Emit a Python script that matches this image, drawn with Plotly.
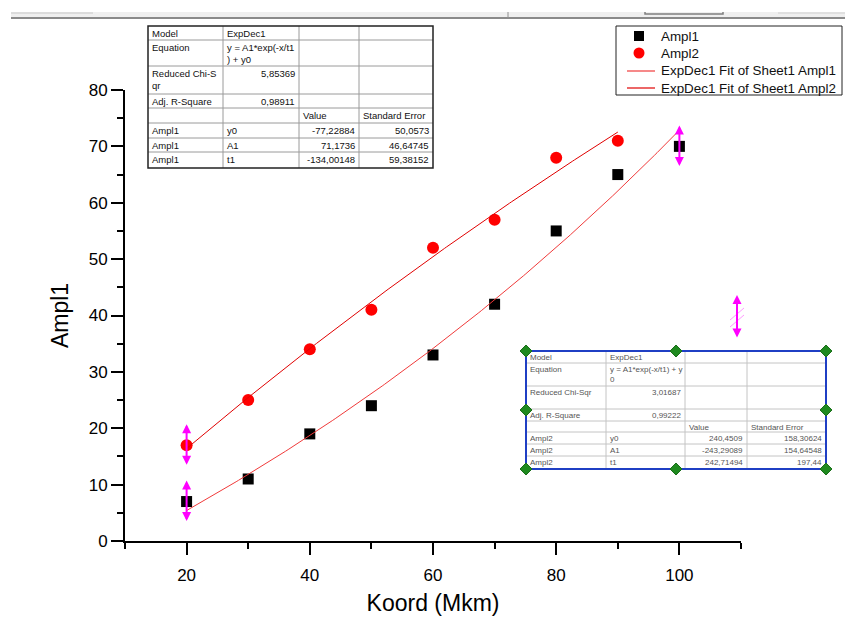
import numpy as np
import plotly.graph_objects as go

# ---- measured data -------------------------------------------------------
koord1 = [20, 30, 40, 50, 60, 70, 80, 90, 100]
ampl1 = [7, 11, 19, 24, 33, 42, 55, 65, 70]
koord2 = [20, 30, 40, 50, 60, 70, 80, 90]
ampl2 = [17, 25, 34, 41, 52, 57, 68, 71]

# ---- ExpDec1 fit results:  y = A1*exp(-x/t1) + y0 -------------------------
param_names = ["y0", "A1", "t1"]
fit1_values = [-77.22884, 71.1736, -134.00148]
fit1_errors = [50.0573, 46.64745, 59.38152]
fit1_chisqr = 5.85369
fit1_adjr2 = 0.98911
fit2_values = [240.4509, -243.29089, 242.71494]
fit2_errors = [158.30624, 154.64548, 197.44]
fit2_chisqr = 3.01687
fit2_adjr2 = 0.99222

FONT = "Liberation Sans, Arial, sans-serif"
W, H = 845, 617
L, R, T, B = 125, 741, 90, 541   # plot-area edges in px

FIT1_COLOR = "#f03a3a"
FIT2_COLOR = "#e00000"


def X(p):
    return (p - L) / (R - L)


def Y(p):
    return (B - p) / (B - T)


def expdec1(x, vals):
    y0, a1, t1 = vals
    return a1 * np.exp(-np.asarray(x, float) / t1) + y0


def fmt(v):
    return str(v).replace(".", ",")


fig = go.Figure()

fig.add_trace(go.Scatter(x=koord1, y=ampl1, mode="markers", name="Ampl1",
                         marker=dict(symbol="square", size=11, color="black"),
                         cliponaxis=False))
fig.add_trace(go.Scatter(x=koord2, y=ampl2, mode="markers", name="Ampl2",
                         marker=dict(symbol="circle", size=12, color="#ff0000"),
                         cliponaxis=False))

xf1 = np.linspace(min(koord1), max(koord1), 200)
xf2 = np.linspace(min(koord2), max(koord2), 200)
fig.add_trace(go.Scatter(x=xf1, y=expdec1(xf1, fit1_values), mode="lines",
                         name="ExpDec1 Fit of Sheet1 Ampl1",
                         line=dict(color=FIT1_COLOR, width=1)))
fig.add_trace(go.Scatter(x=xf2, y=expdec1(xf2, fit2_values), mode="lines",
                         name="ExpDec1 Fit of Sheet1 Ampl2",
                         line=dict(color=FIT2_COLOR, width=1)))

shapes = []
annotations = []


def is_num(s):
    try:
        float(s.replace(",", "."))
        return True
    except ValueError:
        return False


def draw_table(cols, rows, cells, size, txtcolor, gridcolor, border, bwidth):
    for c in cols[1:-1]:
        shapes.append(dict(type="line", xref="paper", yref="paper",
                           x0=X(c), x1=X(c), y0=Y(rows[0]), y1=Y(rows[-1]),
                           line=dict(color=gridcolor, width=1)))
    for r in rows[1:-1]:
        shapes.append(dict(type="line", xref="paper", yref="paper",
                           x0=X(cols[0]), x1=X(cols[-1]), y0=Y(r), y1=Y(r),
                           line=dict(color=gridcolor, width=1)))
    shapes.append(dict(type="rect", xref="paper", yref="paper",
                       x0=X(cols[0]), x1=X(cols[-1]), y0=Y(rows[0]), y1=Y(rows[-1]),
                       line=dict(color=border, width=bwidth)))
    for i, row in enumerate(cells):
        for j, txt in enumerate(row):
            if not txt:
                continue
            right = is_num(txt)
            annotations.append(dict(
                xref="paper", yref="paper",
                x=X(cols[j + 1] - 3) if right else X(cols[j] + 3),
                y=Y(rows[i] + 1),
                xanchor="right" if right else "left", yanchor="top",
                align="right" if right else "left",
                text=txt, showarrow=False, borderpad=0,
                font=dict(family=FONT, size=size, color=txtcolor)))


def table_cells(eq, chi_label, chi, r2, series, vals, errs):
    cells = [["Model", "ExpDec1", "", ""],
             ["Equation", eq, "", ""],
             [chi_label, fmt(chi), "", ""],
             ["Adj. R-Square", fmt(r2), "", ""],
             ["", "", "Value", "Standard Error"]]
    for n, v, e in zip(param_names, vals, errs):
        cells.append([series, n, fmt(v), fmt(e)])
    return cells


draw_table([148, 223, 299, 359, 433], [26, 40, 66, 94, 108, 123, 138, 152, 168],
           table_cells("y = A1*exp(-x/t1<br>) + y0", "Reduced Chi-S<br>qr",
                       fit1_chisqr, fit1_adjr2, "Ampl1", fit1_values, fit1_errors),
           9.5, "#111111", "#9a9a9a", "#222222", 1.5)

br_cols = [526, 606, 685, 747, 826]
br_rows = [351, 363, 386, 409, 421, 432, 444, 456, 469]
draw_table(br_cols, br_rows,
           table_cells("y = A1*exp(-x/t1) + y<br>0", "Reduced Chi-Sqr",
                       fit2_chisqr, fit2_adjr2, "Ampl2", fit2_values, fit2_errors),
           8, "#555555", "#c4c4c4", "#1f3fc4", 2)

# selection handles around the second table
hx = [br_cols[0], (br_cols[0] + br_cols[-1]) / 2, br_cols[-1]]
hy = [br_rows[0], (br_rows[0] + br_rows[-1]) / 2, br_rows[-1]]
for yy in hy:
    for xx in hx:
        if yy == hy[1] and xx == hx[1]:
            continue
        d = 6
        path = (f"M {X(xx - d)},{Y(yy)} L {X(xx)},{Y(yy - d)} "
                f"L {X(xx + d)},{Y(yy)} L {X(xx)},{Y(yy + d)} Z")
        shapes.append(dict(type="path", xref="paper", yref="paper", path=path,
                           fillcolor="#1f8a1f", line=dict(color="#1a6e1a", width=1)))

# double-headed magenta handles on selected points
MAG = "#ff00ff"
for xv, yv in [(koord2[0], ampl2[0]), (koord1[0], ampl1[0]), (koord1[-1], ampl1[-1])]:
    annotations.append(dict(xref="x", yref="y", x=xv, y=yv, ax=0, ay=42,
                            yshift=21, text="", showarrow=True,
                            arrowside="end+start", arrowhead=2, arrowsize=0.9,
                            arrowwidth=2, arrowcolor=MAG))
annotations.append(dict(xref="paper", yref="paper", x=X(737), y=Y(295), ax=0, ay=44,
                        text="", showarrow=True, arrowside="end+start",
                        arrowhead=2, arrowsize=0.9, arrowwidth=2, arrowcolor=MAG))
for off in (0, 7):
    shapes.append(dict(type="line", xref="paper", yref="paper",
                       x0=X(730), y0=Y(320 + off), x1=X(744), y1=Y(308 + off),
                       line=dict(color="#ff99ff", width=1)))

# legend box, drawn explicitly for tight row spacing
leg_left, leg_right, leg_top, leg_bottom = 616, 842, 26, 95
leg_rows = [36, 53, 71, 88]
shapes.append(dict(type="rect", xref="paper", yref="paper",
                   x0=X(leg_left), x1=X(leg_right), y0=Y(leg_top), y1=Y(leg_bottom),
                   fillcolor="white", line=dict(color="#222222", width=1)))
mx = 639
shapes.append(dict(type="rect", xref="paper", yref="paper",
                   x0=X(mx - 5), x1=X(mx + 5), y0=Y(leg_rows[0] - 5), y1=Y(leg_rows[0] + 5),
                   fillcolor="black", line=dict(width=0)))
shapes.append(dict(type="circle", xref="paper", yref="paper",
                   x0=X(mx - 5.5), x1=X(mx + 5.5), y0=Y(leg_rows[1] - 5.5),
                   y1=Y(leg_rows[1] + 5.5), fillcolor="#ff0000", line=dict(width=0)))
for yy, col in zip(leg_rows[2:], [FIT1_COLOR, FIT2_COLOR]):
    shapes.append(dict(type="line", xref="paper", yref="paper",
                       x0=X(627), x1=X(655), y0=Y(yy), y1=Y(yy),
                       line=dict(color=col, width=1.2)))
for yy, tr in zip(leg_rows, fig.data):
    annotations.append(dict(xref="paper", yref="paper", x=X(660), y=Y(yy),
                            xanchor="left", yanchor="middle", text=tr.name,
                            showarrow=False, borderpad=0,
                            font=dict(family=FONT, size=13.4, color="#111111")))

# window toolbar strip along the top edge
shapes += [
    dict(type="rect", xref="paper", yref="paper", x0=X(11), x1=X(845),
         y0=Y(12), y1=Y(17), fillcolor="#efefef", line=dict(width=0), layer="below"),
    dict(type="line", xref="paper", yref="paper", x0=X(11), x1=X(845),
         y0=Y(18), y1=Y(18), line=dict(color="#8a8a8a", width=2)),
    dict(type="line", xref="paper", yref="paper", x0=X(11), x1=X(93),
         y0=Y(13), y1=Y(13), line=dict(color="#c8c8c8", width=1)),
    dict(type="line", xref="paper", yref="paper", x0=X(778), x1=X(845),
         y0=Y(13), y1=Y(13), line=dict(color="#d0d0d0", width=1)),
    dict(type="path", xref="paper", yref="paper",
         path=f"M {X(645)},{Y(12)} L {X(645)},{Y(14)} L {X(723)},{Y(14)} L {X(723)},{Y(12)}",
         line=dict(color="#808080", width=1.5)),
    dict(type="line", xref="paper", yref="paper", x0=X(508), x1=X(508),
         y0=Y(12), y1=Y(18), line=dict(color="#909090", width=1)),
]

axis_common = dict(showline=True, linecolor="black", linewidth=2,
                   ticks="outside", ticklen=12, tickwidth=2, tickcolor="black",
                   showgrid=False, zeroline=False, automargin=False,
                   tickfont=dict(family=FONT, size=17, color="black"))

fig.update_layout(
    width=W, height=H,
    margin=dict(l=L, r=W - R, t=T, b=H - B, pad=0, autoexpand=False),
    paper_bgcolor="white", plot_bgcolor="white",
    font=dict(family=FONT, color="black"),
    xaxis=dict(range=[10, 110], dtick=20, tick0=0, ticklabelstandoff=6,
               minor=dict(dtick=10, tick0=0, ticks="outside", ticklen=6,
                          tickwidth=2, tickcolor="black"),
               title=dict(text="Koord (Mkm)", standoff=10,
                          font=dict(family=FONT, size=23, color="black")),
               **axis_common),
    yaxis=dict(range=[0, 80], dtick=10, tick0=0,
               minor=dict(dtick=5, tick0=0, ticks="outside", ticklen=6,
                          tickwidth=2, tickcolor="black"),
               title=dict(text="Ampl1", standoff=14,
                          font=dict(family=FONT, size=23, color="black")),
               **axis_common),
    shapes=shapes,
    annotations=annotations,
    showlegend=False,
)

fig.write_html("out.html")
